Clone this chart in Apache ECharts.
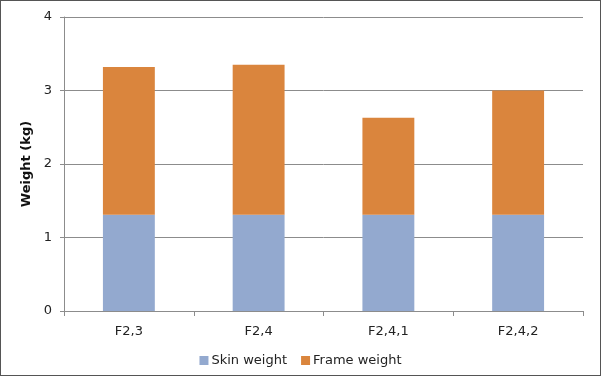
<!DOCTYPE html>
<html>
<head>
<meta charset="utf-8">
<script src="https://cdn.jsdelivr.net/npm/echarts@6/dist/echarts.min.js"></script>
<style>
  html, body { margin: 0; padding: 0; background: #fff; }
  #chart { width: 599px; height: 374px; border: 1px solid #555; }
</style>
</head>
<body>
<div id="chart"></div>
<script>
// 数据
const categories = ["F2,3", "F2,4", "F2,4,1", "F2,4,2"];
const skinWeight = [1.31, 1.31, 1.31, 1.31];
const frameWeight = [2.01, 2.04, 1.32, 1.69];
const yTicks = [0, 1, 2, 3, 4];

const chart = echarts.init(document.getElementById("chart"));

const option = {
  animation: false,
  textStyle: { fontFamily: "DejaVu Sans" },
  grid: { left: 63, right: 17, top: 16, bottom: 64 },
  legend: {
    bottom: 3,
    left: "center",
    itemWidth: 9,
    itemHeight: 9,
    itemGap: 14,
    icon: "rect",
    textStyle: { fontSize: 13, color: "#222", padding: [0, 0, 0, -2] },
    data: ["Skin weight", "Frame weight"],
  },
  xAxis: {
    type: "category",
    data: categories,
    axisLine: { lineStyle: { color: "#8c8c8c" } },
    axisTick: { show: true, length: 5, lineStyle: { color: "#8c8c8c" } },
    axisLabel: { fontSize: 13, color: "#222", margin: 14 },
  },
  yAxis: {
    type: "value",
    min: yTicks[0],
    max: yTicks[yTicks.length - 1],
    interval: 1,
    name: "Weight (kg)",
    nameLocation: "middle",
    nameGap: 27,
    nameTextStyle: { fontSize: 13, fontWeight: "bold", color: "#111" },
    axisLine: { show: true, lineStyle: { color: "#8c8c8c" } },
    axisTick: { show: true, length: 4, lineStyle: { color: "#8c8c8c" } },
    axisLabel: { fontSize: 13, color: "#222", margin: 12 },
    splitLine: { lineStyle: { color: "#8c8c8c" } },
  },
  series: [
    {
      name: "Skin weight",
      type: "bar",
      stack: "total",
      barWidth: "40%",
      data: skinWeight,
      itemStyle: { color: "#93a9cf" },
    },
    {
      name: "Frame weight",
      type: "bar",
      stack: "total",
      barWidth: "40%",
      data: frameWeight,
      itemStyle: { color: "#da853d" },
    },
  ],
};

chart.setOption(option);
</script>
</body>
</html>
